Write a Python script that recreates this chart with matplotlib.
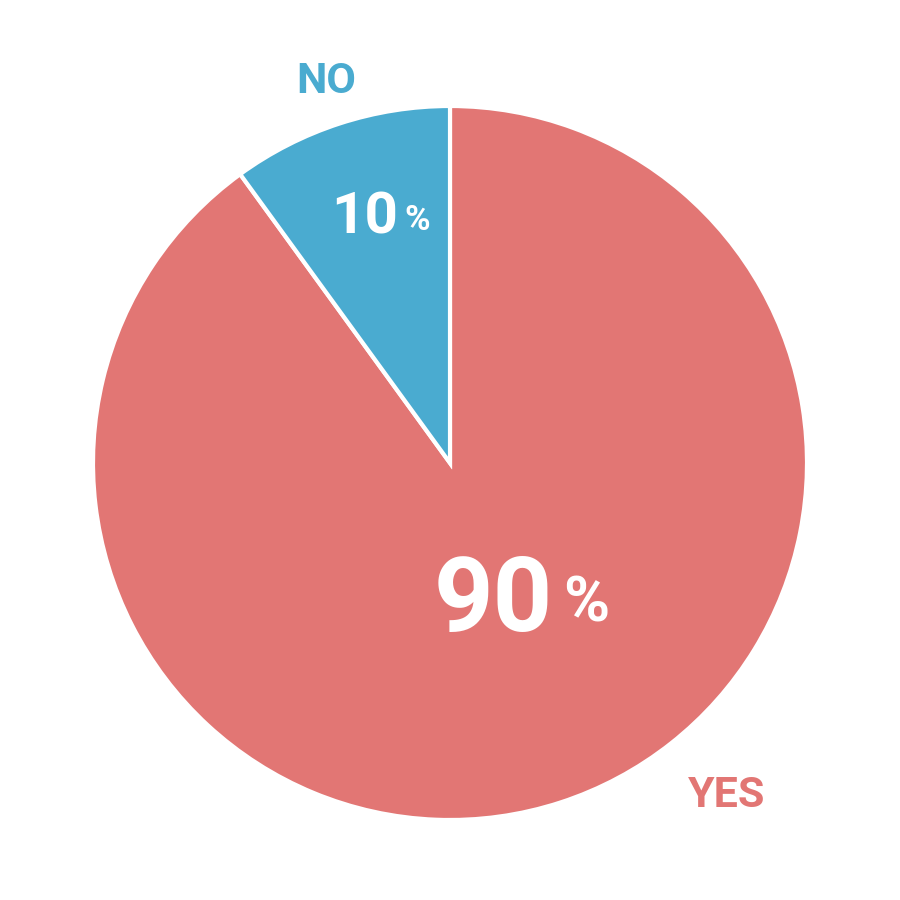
import matplotlib.pyplot as plt

labels = ["YES", "NO"]
values = [90, 10]
colors = ["#E27674", "#4AABD0"]

plt.rcParams['font.family'] = ['Roboto', 'DejaVu Sans']

fig = plt.figure(figsize=(9, 9), dpi=100)
ax = fig.add_axes([0, 0, 1, 1])
ax.set_xlim(0, 900)
ax.set_ylim(900, 0)
ax.set_aspect('equal')
ax.axis('off')

# pie drawn in pixel-like coords; y axis inverted so wedges run clockwise with counterclock=True
ax.pie(values, colors=colors, startangle=-90, counterclock=True,
       center=(450, 463), radius=357, frame=True,
       wedgeprops=dict(edgecolor="white", linewidth=3))
ax.set_xlim(0, 900)
ax.set_ylim(900, 0)
ax.axis('off')

# category labels
ax.text(326, 93, labels[1], color=colors[1], fontsize=31, fontweight='bold',
        ha='center', va='baseline')
ax.text(727, 807, labels[0], color=colors[0], fontsize=31, fontweight='bold',
        ha='center', va='baseline')

# percentages
ax.text(553, 631, f"{values[0]}", color="white", fontsize=75, fontweight='bold',
        ha='right', va='baseline')
ax.text(563, 621, "%", color="white", fontsize=45, fontweight='bold',
        ha='left', va='baseline')
ax.text(398, 233, f"{values[1]}", color="white", fontsize=42, fontweight='bold',
        ha='right', va='baseline')
ax.text(404, 230, "%", color="white", fontsize=25, fontweight='bold',
        ha='left', va='baseline')

fig.savefig("out.png", dpi=100, facecolor="white")
